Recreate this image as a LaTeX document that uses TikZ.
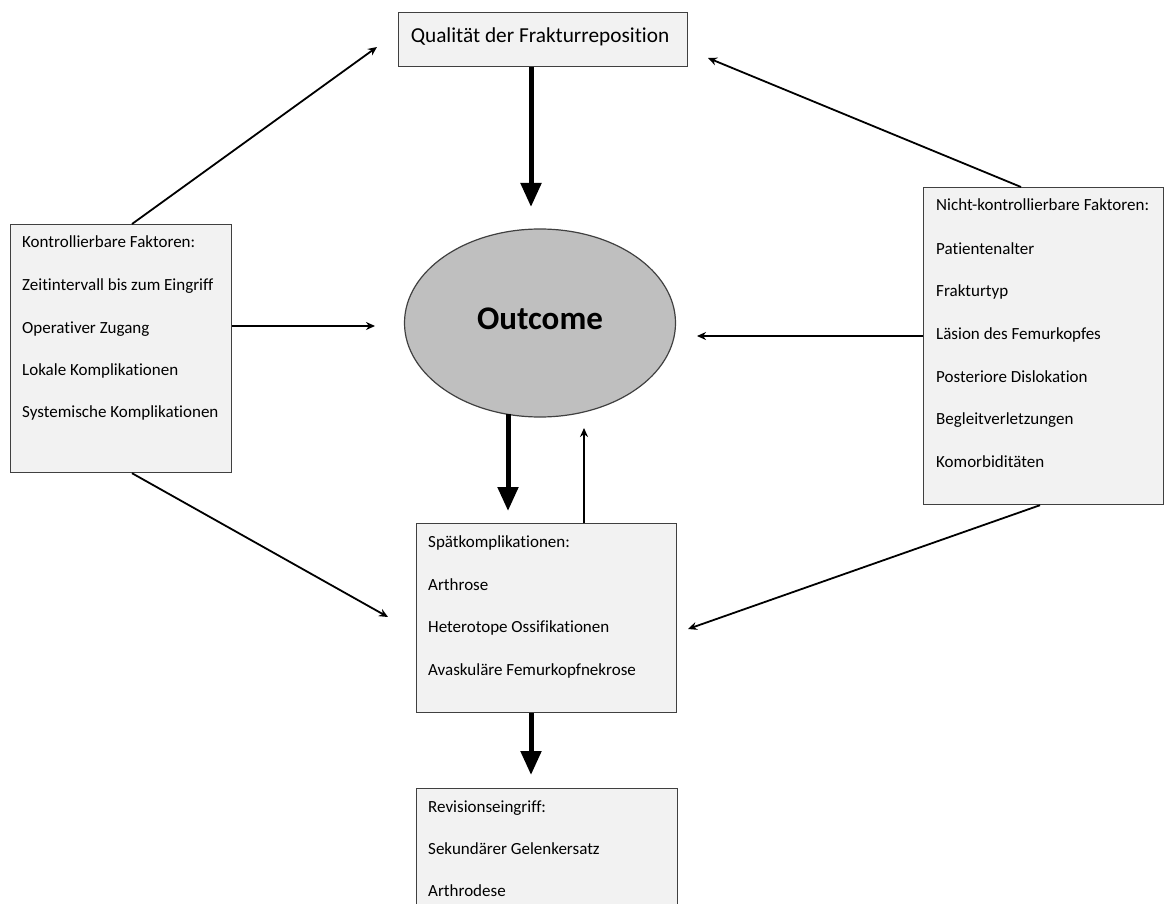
\documentclass[tikz,border=0pt]{standalone}
\usepackage{fontspec}
\setmainfont{Carlito}[Ligatures=NoCommon]
\usetikzlibrary{arrows.meta,calc,shapes.geometric}
\definecolor{boxfill}{HTML}{F2F2F2}
\definecolor{ovalfill}{HTML}{BFBFBF}
\definecolor{edgecol}{HTML}{404040}
\begin{document}
\begin{tikzpicture}[x=1pt,y=-1pt,
  box/.style={draw=edgecol,line width=1.2pt,fill=boxfill,rectangle,inner sep=0pt,anchor=north west},
  item/.style={anchor=west,inner sep=0pt,yshift=-2pt,text height=12pt,text depth=4pt,font=\fontsize{17}{20}\selectfont},
  thinarrow/.style={line width=1.8pt,-{Stealth[length=9pt,width=8pt]}},
  thickarrow/.style={line width=5pt,-{Triangle[length=24pt,width=20pt]}}]
\useasboundingbox (0,0) rectangle (1164,904);

% boxes
\node[box,minimum width=289pt,minimum height=54pt] (q) at (398,12) {};
\node[inner sep=0pt,font=\fontsize{21.3}{24}\selectfont] (qt) at (540,37) {Qualität der Frakturreposition};

\node[draw=edgecol,line width=1.2pt,fill=ovalfill,ellipse,minimum width=271pt,minimum height=188pt,inner sep=0pt] (o) at (540,323) {};
\node[inner sep=0pt,font=\bfseries\fontsize{33}{38}\selectfont] (ot) at (540,319) {Outcome};

\node[box,minimum width=221pt,minimum height=248pt] (kb) at (10,224) {};
\node[item] (k0) at (22,241) {Kontrollierbare Faktoren:};
\node[item] (k1) at (22,284) {Zeitintervall bis zum Eingriff};
\node[item] (k2) at (22,327) {Operativer Zugang};
\node[item] (k3) at (22,369) {Lokale Komplikationen};
\node[item] (k4) at (22,411) {Systemische Komplikationen};

\node[box,minimum width=240pt,minimum height=317pt] (nb) at (923,187) {};
\node[item] (n0) at (936,205) {Nicht-kontrollierbare Faktoren:};
\node[item] (n1) at (936,248) {Patientenalter};
\node[item] (n2) at (936,290) {Frakturtyp};
\node[item] (n3) at (936,333) {Läsion des Femurkopfes};
\node[item] (n4) at (936,376) {Posteriore Dislokation};
\node[item] (n5) at (936,418) {Begleitverletzungen};
\node[item] (n6) at (936,461) {Komorbiditäten};

\node[box,minimum width=260pt,minimum height=189pt] (sb) at (416,523) {};
\node[item] (s0) at (428,541) {Spätkomplikationen:};
\node[item] (s1) at (428,584) {Arthrose};
\node[item] (s2) at (428,626) {Heterotope Ossifikationen};
\node[item] (s3) at (428,669) {Avaskuläre Femurkopfnekrose};

\node[box,minimum width=261pt,minimum height=130pt] (rb) at (416,788) {};
\node[item] (r0) at (428,806) {Revisionseingriff:};
\node[item] (r1) at (428,848) {Sekundärer Gelenkersatz};
\node[item] (r2) at (428,890) {Arthrodese};

% connector end points
\coordinate (kq) at (377,47);
\coordinate (ko) at (375,326);
\coordinate (ks) at (388,617);
\coordinate (nq) at (708,58);
\coordinate (no) at (697,336);
\coordinate (ns) at (688,629);
\coordinate (qo) at (531,207);
\coordinate (os) at (508,511);
\coordinate (so) at (584,428);
\coordinate (sr) at (531,775);

% connectors
\draw[thinarrow] ($(kb.north west)+(122,0)$) -- (kq);
\draw[thinarrow] (kb.east |- ko) -- (ko);
\draw[thinarrow] ($(kb.south west)+(122,0)$) -- (ks);
\draw[thinarrow] ($(nb.north west)+(98,0)$) -- (nq);
\draw[thinarrow] (nb.west |- no) -- (no);
\draw[thinarrow] ($(nb.south west)+(117,0)$) -- (ns);
\draw[thickarrow] (q.south -| qo) -- (qo);
\draw[thickarrow] ($(o.south)+(-32,-4)$) -- (os);
\draw[thinarrow] (sb.north -| so) -- (so);
\draw[thickarrow] (sb.south -| sr) -- (sr);
\end{tikzpicture}
\end{document}
